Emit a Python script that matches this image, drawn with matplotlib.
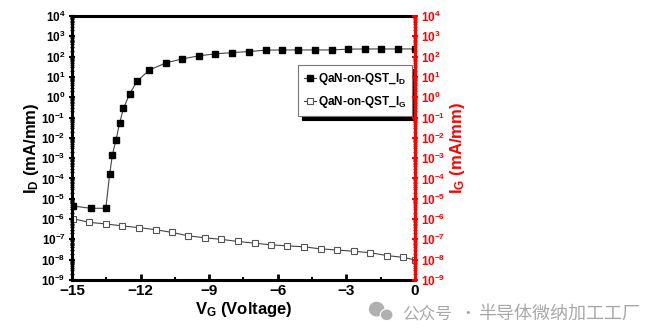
import math
import matplotlib
matplotlib.use('Agg')
import matplotlib.pyplot as plt
from matplotlib.ticker import LogLocator, FixedLocator, FuncFormatter, NullFormatter
from matplotlib.patches import Ellipse

plt.rcParams['font.family'] = ['Liberation Sans', 'DejaVu Sans']
plt.rcParams['mathtext.fontset'] = 'custom'
plt.rcParams['mathtext.rm'] = 'Liberation Sans:bold'
plt.rcParams['mathtext.bf'] = 'Liberation Sans:bold'
plt.rcParams['mathtext.default'] = 'bf'

# drain current
vg_d = [-14.96, -14.18, -13.52, -13.35, -13.23, -13.07, -12.92, -12.75, -12.48,
        -12.16, -11.62, -10.89, -10.18, -9.44, -8.73, -8.00, -7.26, -6.53,
        -5.83, -5.10, -4.37, -3.64, -2.91, -2.18, -1.46, -0.75, 0.0]
id_ma = [4.4e-6, 3.4e-6, 3.4e-6, 1.7e-4, 1.5e-3, 8.3e-3, 5.2e-2, 0.28, 1.45,
         6.0, 22.0, 49.0, 78.0, 110.0, 138.0, 158.0, 178.0, 209.0,
         214.0, 214.0, 214.0, 214.0, 234.0, 240.0, 240.0, 240.0, 240.0]

# gate current
vg_g = [-14.96, -14.25, -13.53, -12.80, -12.07, -11.34, -10.62, -9.92, -9.19,
        -8.46, -7.74, -7.01, -6.30, -5.58, -4.85, -4.12, -3.40, -2.67,
        -1.95, -1.22, -0.52, 0.0]
ig_ma = [1.05e-6, 6.9e-7, 5.8e-7, 4.6e-7, 3.8e-7, 3.0e-7, 2.2e-7, 1.5e-7, 1.2e-7,
         1.0e-7, 7.9e-8, 6.5e-8, 5.4e-8, 4.8e-8, 4.3e-8, 3.4e-8, 3.0e-8, 2.6e-8,
         2.2e-8, 1.6e-8, 1.3e-8, 9.8e-9]

x_ticks = [-15, -12, -9, -6, -3, 0]
y_lim = (1e-9, 1e4)
wm_parts = ['公众号', '·', '半导体微纳加工工厂']


def pow_fmt(v, pos):
    e = int(round(math.log10(v)))
    return r'$\mathbf{10^{%d}}$' % e if e >= 0 else r'$\mathbf{10^{\minus%d}}$' % (-e)


def log_axis(a, colour):
    a.set_yscale('log')
    a.set_ylim(*y_lim)
    a.yaxis.set_major_locator(LogLocator(base=10, numticks=20))
    a.yaxis.set_minor_locator(LogLocator(base=10, subs=range(2, 10), numticks=20))
    a.yaxis.set_major_formatter(FuncFormatter(pow_fmt))
    a.yaxis.set_minor_formatter(NullFormatter())
    a.tick_params(axis='y', which='major', direction='inout', length=5, width=1.5,
                  colors=colour, labelsize=8.5, pad=2)
    a.tick_params(axis='y', which='minor', direction='inout', length=3, width=1,
                  colors=colour)


fig = plt.figure(figsize=(6.69, 3.36), dpi=100)
ax = fig.add_axes([0.1076, 0.1667, 0.5125, 0.7855])

ax.plot(vg_d, id_ma, '-', color='#444444', lw=0.8, marker='s', ms=4.2,
        mfc='black', mec='black', label=r'QaN-on-QST_I$_\mathregular{D}$')
ax.plot(vg_g, ig_ma, '-', color='#444444', lw=0.8, marker='s', ms=4.2,
        mfc='white', mec='#555555', mew=0.8, label=r'QaN-on-QST_I$_\mathregular{G}$')

ax.set_xlim(-15, 0)
ax.xaxis.set_major_locator(FixedLocator(x_ticks))
ax.xaxis.set_minor_locator(FixedLocator([-13.5, -10.5, -7.5, -4.5, -1.5]))
ax.set_xticklabels([('\u2212%d' % -t) if t < 0 else '0' for t in x_ticks],
                   fontsize=11, fontweight='bold')
ax.tick_params(axis='x', which='major', direction='in', length=4, width=2, pad=3)
ax.tick_params(axis='x', which='minor', direction='in', length=2.5, width=1.5)
log_axis(ax, 'black')
for s in ['left', 'bottom', 'top']:
    ax.spines[s].set_linewidth(2.2)
ax.spines['right'].set_visible(False)

ax.set_xlabel(r'V$_\mathregular{G}$ (Voltage)', fontsize=12, fontweight='bold', labelpad=1)
ax.set_ylabel(r'I$_\mathregular{D}$ (mA/mm)', fontsize=12, fontweight='bold', labelpad=0)

# right axis in red
ax2 = ax.twinx()
log_axis(ax2, 'red')
for s in ['left', 'bottom', 'top']:
    ax2.spines[s].set_visible(False)
ax2.spines['right'].set_color('red')
ax2.spines['right'].set_linewidth(2.2)
ax2.set_ylabel(r'I$_\mathregular{G}$ (mA/mm)', fontsize=12, fontweight='bold',
               color='red', labelpad=2)

leg = ax.legend(loc='upper left', bbox_to_anchor=(0.659, 0.815), borderaxespad=0,
                prop={'weight': 'bold', 'size': 8.5}, handlelength=1.0,
                handletextpad=0.2, borderpad=0.5, labelspacing=0.6,
                fancybox=False, framealpha=1, edgecolor='#777777',
                shadow={'color': 'black', 'alpha': 1, 'ox': 3, 'oy': -3})
leg.get_frame().set_linewidth(0.8)

# watermark
cjk = ['Noto Sans CJK SC', 'DejaVu Sans']
for txt, xf, fs in zip(wm_parts, [0.601, 0.686, 0.715], [12, 12, 13]):
    fig.text(xf, 0.066, txt, fontsize=fs, color='#a8a8a8', family=cjk,
             ha='left', va='center')
fig.patches.append(Ellipse((0.563, 0.080), 0.021, 0.040, transform=fig.transFigure,
                           color='#b0b0b0'))
fig.patches.append(Ellipse((0.578, 0.063), 0.019, 0.035, transform=fig.transFigure,
                           fc='#b0b0b0', ec='white', lw=0.8))

fig.savefig('out.png', dpi=100)
